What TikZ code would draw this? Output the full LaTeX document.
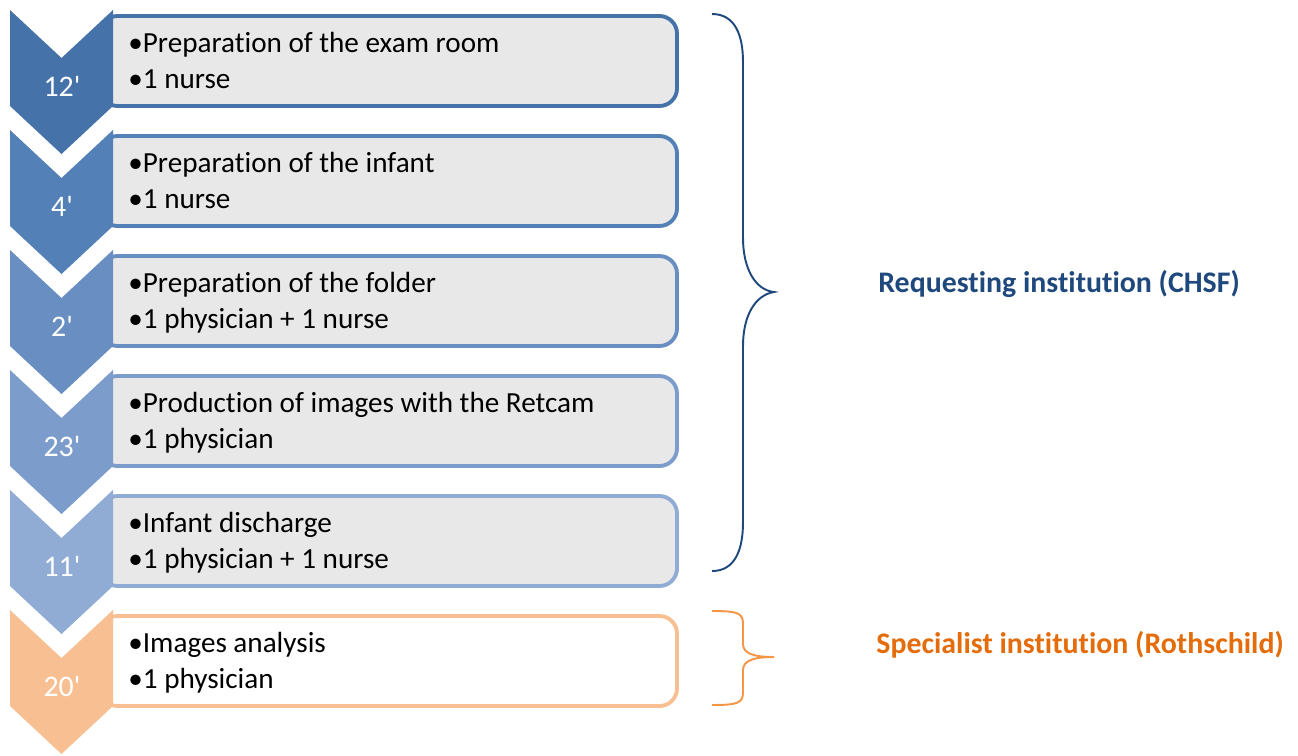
\documentclass[tikz,border=0pt]{standalone}
\usepackage{fontspec}
\setmainfont{Carlito}[Ligatures={NoCommon}]

\definecolor{stepA}{RGB}{70,114,170}
\definecolor{stepB}{RGB}{84,128,184}
\definecolor{stepC}{RGB}{104,142,194}
\definecolor{stepD}{RGB}{124,157,204}
\definecolor{stepE}{RGB}{144,172,212}
\definecolor{stepF}{RGB}{248,192,146}
\definecolor{boxgray}{RGB}{232,232,232}
\definecolor{bracegold}{RGB}{245,150,70}
\definecolor{bluetext}{RGB}{31,73,125}
\definecolor{orangetext}{RGB}{228,108,10}

\begin{document}
\begin{tikzpicture}[x=0.02cm, y=-0.02cm,
  task/.style={rounded corners=10, line width=2.2pt, fill=boxgray},
  item/.style={anchor=base west, inner sep=0, font=\fontsize{16.6}{19}\selectfont},
  mins/.style={anchor=base, inner sep=0, text=white, font=\fontsize{17}{20}\selectfont},
  who/.style={inner sep=0, font=\fontsize{17}{20}\selectfont\bfseries}]
\useasboundingbox (0,0) rectangle (1298,755);

% boxes
\draw[task, draw=stepA] (100,16) rectangle (677,106);
\draw[task, draw=stepB] (100,136) rectangle (677,226);
\draw[task, draw=stepC] (100,256) rectangle (677,346);
\draw[task, draw=stepD] (100,376) rectangle (677,466);
\draw[task, draw=stepE] (100,496) rectangle (677,586);
\draw[task, draw=stepF, fill=white] (100,616) rectangle (677,706);

% chevrons
\fill[stepA] (10,10) -- ++(51.5,48) -- ++(51.5,-48) -- ++(0,96) -- ++(-51.5,48) -- ++(-51.5,-48) -- cycle;
\fill[stepB] (10,130) -- ++(51.5,48) -- ++(51.5,-48) -- ++(0,96) -- ++(-51.5,48) -- ++(-51.5,-48) -- cycle;
\fill[stepC] (10,250) -- ++(51.5,48) -- ++(51.5,-48) -- ++(0,96) -- ++(-51.5,48) -- ++(-51.5,-48) -- cycle;
\fill[stepD] (10,370) -- ++(51.5,48) -- ++(51.5,-48) -- ++(0,96) -- ++(-51.5,48) -- ++(-51.5,-48) -- cycle;
\fill[stepE] (10,490) -- ++(51.5,48) -- ++(51.5,-48) -- ++(0,96) -- ++(-51.5,48) -- ++(-51.5,-48) -- cycle;
\fill[stepF] (10,610) -- ++(51.5,48) -- ++(51.5,-48) -- ++(0,96) -- ++(-51.5,48) -- ++(-51.5,-48) -- cycle;

\node[mins] (m1) at (62,96) {12\textquotesingle};
\node[mins] (m2) at (62,216) {4\textquotesingle};
\node[mins] (m3) at (62,336) {2\textquotesingle};
\node[mins] (m4) at (62,456) {23\textquotesingle};
\node[mins] (m5) at (62,576) {11\textquotesingle};
\node[mins] (m6) at (62,696) {20\textquotesingle};

\node[item] (t1a) at (128,52) {•Preparation of the exam room};
\node[item] (t1b) at (128,88) {•1 nurse};
\node[item] (t2a) at (128,172) {•Preparation of the infant};
\node[item] (t2b) at (128,208) {•1 nurse};
\node[item] (t3a) at (128,292) {•Preparation of the folder};
\node[item] (t3b) at (128,328) {•1 physician + 1 nurse};
\node[item] (t4a) at (128,412) {•Production of images with the Retcam};
\node[item] (t4b) at (128,448) {•1 physician};
\node[item] (t5a) at (128,532) {•Infant discharge};
\node[item] (t5b) at (128,568) {•1 physician + 1 nurse};
\node[item] (t6a) at (128,652) {•Images analysis};
\node[item] (t6b) at (128,688) {•1 physician};

% braces
\draw[bluetext, line width=1.1pt] (712,14) .. controls (735,14) and (743,35) .. (743,62) -- (743,238)
  .. controls (743,268) and (755,290) .. (774,292) .. controls (755,295) and (743,316) .. (743,346)
  -- (743,522) .. controls (743,550) and (735,571) .. (712,571);
\draw[bracegold, line width=1.1pt] (712,611) .. controls (738,611) and (743,613) .. (743,624) -- (743,644)
  .. controls (743,654) and (755,657) .. (774,657) .. controls (755,657) and (743,660) .. (743,670)
  -- (743,692) .. controls (743,703) and (738,705) .. (712,705);

\node[who, text=bluetext] (req) at (1059,284) {Requesting institution (CHSF)};
\node[who, text=orangetext] (spec) at (1080,645) {Specialist institution (Rothschild)};
\end{tikzpicture}
\end{document}
